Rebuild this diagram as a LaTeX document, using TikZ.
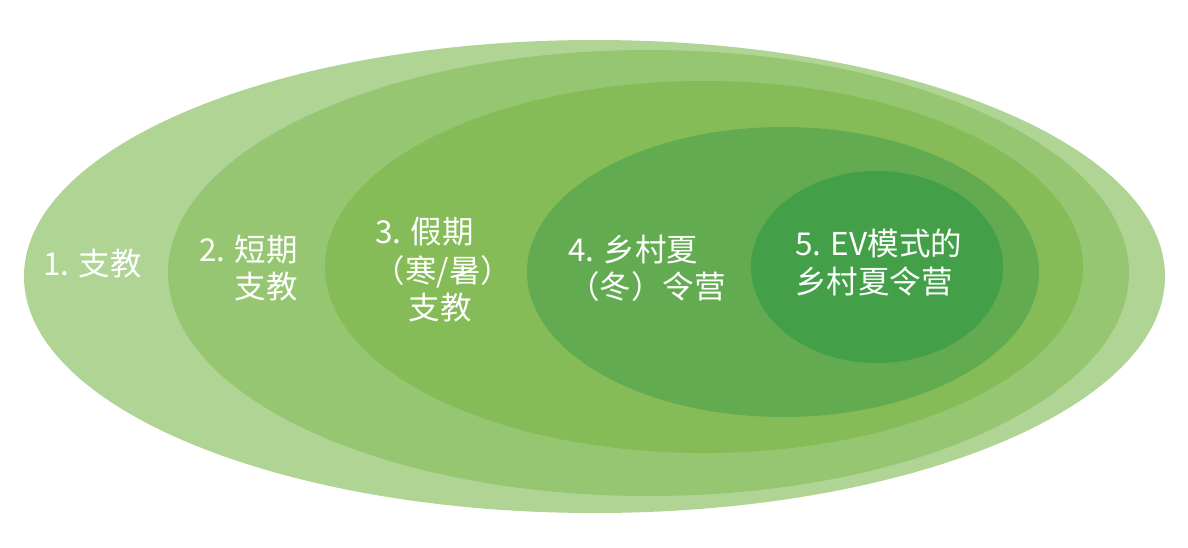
\documentclass[tikz,border=0pt]{standalone}
\usepackage{fontspec}
\setmainfont{Noto Sans CJK SC}
\definecolor{cA}{RGB}{176,212,148}
\definecolor{cB}{RGB}{150,198,114}
\definecolor{cC}{RGB}{133,188,88}
\definecolor{cD}{RGB}{99,171,80}
\definecolor{cE}{RGB}{67,159,72}
\tikzset{
  lbl/.style={text=white, inner sep=0pt, font=\fontsize{31.5}{38}\selectfont}
}
\begin{document}
\begin{tikzpicture}[x=1pt,y=-1pt]
\useasboundingbox (0,0) rectangle (1188,547);
\fill[cA] (594.5,276.5) ellipse [x radius=570.5pt, y radius=236.5pt];
\fill[cB] (648.5,273) ellipse [x radius=480.5pt, y radius=223pt];
\fill[cC] (704,267) ellipse [x radius=379pt, y radius=186pt];
\fill[cD] (783,272) ellipse [x radius=256pt, y radius=145pt];
\fill[cE] (877,267) ellipse [x radius=126pt, y radius=96pt];
\node[lbl, anchor=west] (t1) at (43,264) {1. 支教};
\node[lbl, anchor=east] (t2a) at (298,250) {2. 短期};
\node[lbl, anchor=east] (t2b) at (298,287) {支教};
\node[lbl, anchor=west] (t3a) at (375,232) {3. 假期};
\node[lbl] (t3b) at (443,272) {（寒/暑）};
\node[lbl] (t3c) at (440,308) {支教};
\node[lbl, anchor=west] (t4a) at (568,250) {4. 乡村夏};
\node[lbl, anchor=east] (t4b) at (726,287) {（冬）令营};
\node[lbl, anchor=west] (t5a) at (795,243) {5. EV模式的};
\node[lbl, anchor=west] (t5b) at (795,282) {乡村夏令营};
\end{tikzpicture}
\end{document}
